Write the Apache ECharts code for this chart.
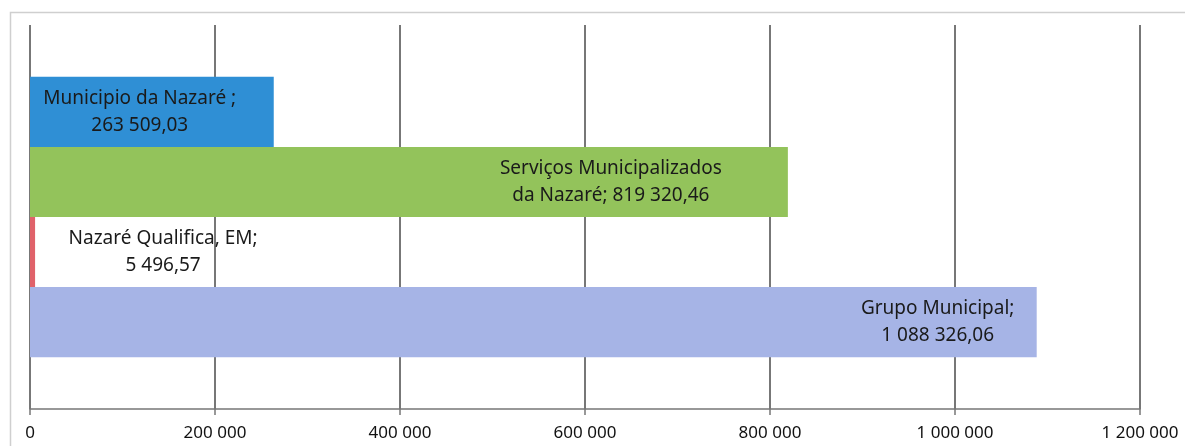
<!DOCTYPE html>
<html>
<head>
<meta charset="utf-8">
<script src="https://cdn.jsdelivr.net/npm/echarts@6/dist/echarts.min.js"></script>
<style>
  html, body { margin: 0; padding: 0; background: #fff; }
  #chart { width: 1185px; height: 446px; }
</style>
</head>
<body>
<div id="chart"></div>
<script>
// series shown top to bottom
const seriesNames = ['Municipio da Nazaré ', 'Serviços Municipalizados\nda Nazaré', 'Nazaré Qualifica, EM', 'Grupo Municipal'];
const seriesValues = [263509.03, 819320.46, 5496.57, 1088326.06];
const labelSeparators = ['\n', ' ', '\n', '\n'];
const barColors = ['#2f8fd5', '#93c35b', '#e0626a', '#a6b4e6'];
const tickValues = [0, 200000, 400000, 600000, 800000, 1000000, 1200000];

// 1 088 326,06 style
function fmt(v, decimals) {
  const parts = v.toFixed(decimals).split('.');
  const intPart = parts[0].replace(/\B(?=(\d{3})+(?!\d))/g, ' ');
  return parts[1] ? intPart + ',' + parts[1] : intPart;
}

// label placement per bar: [position, distance]
const labelPlace = [['insideRight', 134], ['insideRight', 177], ['right', 128], ['insideRight', 99]];

const chart = echarts.init(document.getElementById('chart'));

const option = {
  animation: false,
  textStyle: { fontFamily: 'Noto Sans' },
  graphic: [{
    type: 'rect',
    shape: { x: 10.5, y: 12.5, width: 1300, height: 500 },
    style: { fill: 'none', stroke: '#cfcfcf', lineWidth: 1.5 },
    silent: true
  }],
  grid: { left: 30, right: 45, top: 25, bottom: 37 },
  xAxis: {
    type: 'value',
    min: 0,
    max: 1200000,
    interval: 200000,
    axisLine: { show: true, lineStyle: { color: '#777', width: 1.5 } },
    axisTick: { show: true, length: 6, lineStyle: { color: '#777', width: 1.5 } },
    splitLine: { show: true, lineStyle: { color: '#4a4a4a', width: 1.5 } },
    axisLabel: {
      color: '#111',
      fontSize: 17,
      margin: 16,
      formatter: v => fmt(v, 0)
    }
  },
  yAxis: {
    type: 'category',
    inverse: true,
    data: [''],
    axisLine: { show: false },
    axisTick: { show: false },
    axisLabel: { show: false }
  },
  series: seriesNames.map((name, i) => ({
    type: 'bar',
    name: name,
    data: [seriesValues[i]],
    barGap: '0%',
    barCategoryGap: '27%',
    itemStyle: { color: barColors[i] },
    label: {
      show: true,
      position: labelPlace[i][0],
      distance: labelPlace[i][1],
      align: 'center',
      color: '#1a1a1a',
      fontSize: 19,
      lineHeight: 27,
      formatter: p => name + ';' + labelSeparators[i] + fmt(p.value, 2)
    }
  }))
};

chart.setOption(option);
</script>
</body>
</html>
